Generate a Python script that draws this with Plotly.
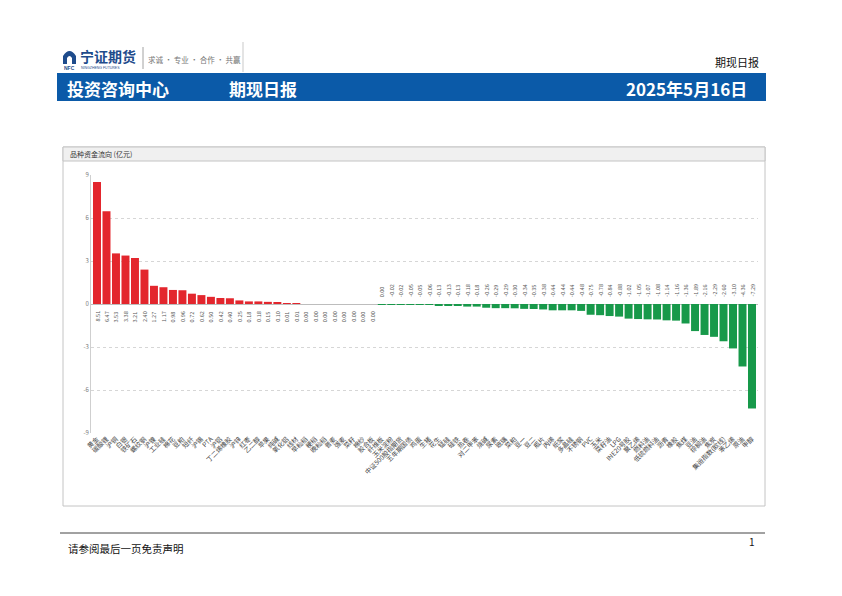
import plotly.graph_objects as go

W, H = 834, 588   # page body has an 8px margin inside the 842x596 window
OFF = 8

categories = [
    "黄金", "碳酸锂", "沪铜", "白银", "铁矿石", "螺纹钢", "沪镍", "工业硅", "棉花", "豆粕",
    "短纤", "沪锡", "PTA", "沪铝", "丁二烯橡胶", "沪锌", "红枣", "乙二醇", "苹果", "纯碱",
    "氧化铝", "线材", "早籼稻", "粳稻", "晚籼稻", "普麦", "强麦", "菜籽", "棉纱", "胶合板",
    "纤维板", "玉米淀粉", "中证500股指期货", "五年期国债", "鸡蛋", "生猪", "花生", "锰硅", "硅铁", "热卷",
    "对二甲苯", "烧碱", "尿素", "玻璃", "菜粕", "豆一", "豆二", "瓶片", "丙烯", "纸浆",
    "多晶硅", "不锈钢", "PVC", "玉米", "菜籽油", "LPG", "INE20号胶", "聚乙烯", "燃料油", "低硫燃料油",
    "沥青", "橡胶", "焦煤", "豆油", "棕榈油", "焦炭", "集运指数(欧线)", "苯乙烯", "原油", "甲醇",
]

flows = [
    8.51, 6.47, 3.53, 3.38, 3.21, 2.40, 1.27, 1.17, 0.98, 0.96,
    0.72, 0.62, 0.50, 0.42, 0.40, 0.25, 0.18, 0.18, 0.15, 0.10,
    0.01, 0.01, 0.00, 0.00, 0.00, 0.00, 0.00, 0.00, 0.00, 0.00,
    -0.001, -0.02, -0.02, -0.05, -0.05, -0.06, -0.13, -0.13, -0.13, -0.18,
    -0.18, -0.26, -0.29, -0.29, -0.30, -0.34, -0.35, -0.38, -0.44, -0.44,
    -0.44, -0.48, -0.75, -0.78, -0.84, -0.88, -1.02, -1.05, -1.07, -1.08,
    -1.14, -1.16, -1.36, -1.89, -2.16, -2.29, -2.60, -3.10, -4.36, -7.29,
]

y_ticks = [-9, -6, -3, 0, 3, 6, 9]

RED = "#e3262d"
GREEN = "#17994a"
FONT = "Noto Sans CJK SC"


def fx(x):
    return (x - OFF) / W


def fy(y):
    return 1 - (y - OFF) / H


colors = [RED if v > 0 else GREEN for v in flows]

fig = go.Figure()
fig.add_trace(go.Bar(
    x=categories, y=flows, marker=dict(color=colors, line=dict(width=0)),
    hoverinfo="x+y", showlegend=False,
))


def fmt(v):
    s = f"{v:.2f}"
    return "0.00" if s == "-0.00" else s


annotations = []
for c, v in zip(categories, flows):
    pos = v >= 0
    annotations.append(dict(
        x=c, y=0, xref="x", yref="y", text=fmt(v), showarrow=False,
        textangle=-90, font=dict(size=5.5, color="#555555", family=FONT),
        xanchor="center", yanchor="top" if pos else "bottom",
        yshift=-5 if pos else 5,
    ))

# header / page texts
annotations += [
    dict(x=fx(78), y=fy(56), text="<b>宁证期货</b>", font=dict(size=14, color="#1f4c8c", family=FONT),
         xanchor="left", yanchor="middle"),
    dict(x=fx(62), y=fy(68), text="<b>NFC</b>", font=dict(size=5, color="#1f4c8c", family="Arial"),
         xanchor="left", yanchor="middle"),
    dict(x=fx(79), y=fy(68), text="NINGZHENG FUTURES", font=dict(size=3.5, color="#1f4c8c", family="Arial"),
         xanchor="left", yanchor="middle"),
    dict(x=fx(146), y=fy(59), text="求诚 · 专业 · 合作 · 共赢", font=dict(size=7.5, color="#777777", family=FONT),
         xanchor="left", yanchor="middle"),
    dict(x=fx(761), y=fy(62), text="期现日报", font=dict(size=11, color="#111111", family=FONT),
         xanchor="right", yanchor="middle"),
    dict(x=fx(65), y=fy(88), text="<b>投资咨询中心</b>", font=dict(size=17, color="white", family=FONT),
         xanchor="left", yanchor="middle"),
    dict(x=fx(227), y=fy(88), text="<b>期现日报</b>", font=dict(size=17, color="white", family=FONT),
         xanchor="left", yanchor="middle"),
    dict(x=fx(749), y=fy(88), text="<b>2025年5月16日</b>", font=dict(size=17, color="white", family=FONT),
         xanchor="right", yanchor="middle"),
    dict(x=fx(68), y=fy(154), text="品种资金流向 (亿元)", font=dict(size=7, color="#333333", family=FONT),
         xanchor="left", yanchor="middle"),
    dict(x=fx(66), y=fy(548), text="请参阅最后一页免责声明", font=dict(size=10.5, color="#111111", family=FONT),
         xanchor="left", yanchor="middle"),
    dict(x=fx(757), y=fy(541), text="1", font=dict(size=10, color="#111111", family=FONT),
         xanchor="right", yanchor="middle"),
]
for a in annotations[len(categories):]:
    a.update(xref="paper", yref="paper", showarrow=False)

shapes = [
    # logo icon
    dict(type="path", xref="paper", yref="paper",
         path=f"M {fx(63)},{fy(64)} L {fx(63)},{fy(56)} Q {fx(69.5)},{fy(46)} {fx(76)},{fy(56)} L {fx(76)},{fy(64)} "
              f"L {fx(72)},{fy(64)} L {fx(72)},{fy(58)} Q {fx(69.5)},{fy(54)} {fx(67)},{fy(58)} L {fx(67)},{fy(64)} Z",
         fillcolor="#1f4c8c", line=dict(width=0)),
    dict(type="line", xref="paper", yref="paper", x0=fx(143), x1=fx(143), y0=fy(47), y1=fy(69),
         line=dict(color="#8a8a8a", width=0.8)),
    dict(type="line", xref="paper", yref="paper", x0=fx(243), x1=fx(243), y0=fy(42), y1=fy(72),
         line=dict(color="#bbbbbb", width=0.8)),
    # blue banner
    dict(type="rect", xref="paper", yref="paper", x0=fx(57), x1=fx(766), y0=fy(101), y1=fy(73),
         fillcolor="#0b5aa8", line=dict(width=0), layer="below"),
    # chart box
    dict(type="rect", xref="paper", yref="paper", x0=fx(63), x1=fx(765), y0=fy(506), y1=fy(147),
         fillcolor="white", line=dict(color="#c4c4c4", width=1), layer="below"),
    dict(type="rect", xref="paper", yref="paper", x0=fx(63), x1=fx(765), y0=fy(161), y1=fy(147),
         fillcolor="#f0f0f0", line=dict(color="#c4c4c4", width=1), layer="below"),
    # footer line
    dict(type="line", xref="paper", yref="paper", x0=fx(60), x1=fx(765), y0=fy(533), y1=fy(533),
         line=dict(color="#444444", width=1)),
]

fig.update_layout(
    width=W, height=H,
    margin=dict(l=0, r=0, t=0, b=0),
    paper_bgcolor="white", plot_bgcolor="rgba(0,0,0,0)",
    bargap=0.16,
    showlegend=False,
    font=dict(family=FONT),
    xaxis=dict(
        domain=[fx(91), fx(758)],
        tickangle=-45, tickfont=dict(size=6.5, color="#444444", family=FONT),
        showgrid=False, showline=False, ticks="", automargin=False,
    ),
    yaxis=dict(
        domain=[fy(433), fy(175)],
        range=[-9, 9], tickvals=y_ticks, ticktext=[str(t) for t in y_ticks],
        tickfont=dict(size=6, color="#777777"),
        showgrid=True, gridcolor="#d6d6d6", griddash="dot", gridwidth=1,
        zeroline=True, zerolinecolor="#bdbdbd", zerolinewidth=1,
        showline=True, linecolor="#cfcfcf", linewidth=1,
        automargin=False, ticks="",
    ),
    annotations=annotations,
    shapes=shapes,
)

fig.write_html("out.html")
